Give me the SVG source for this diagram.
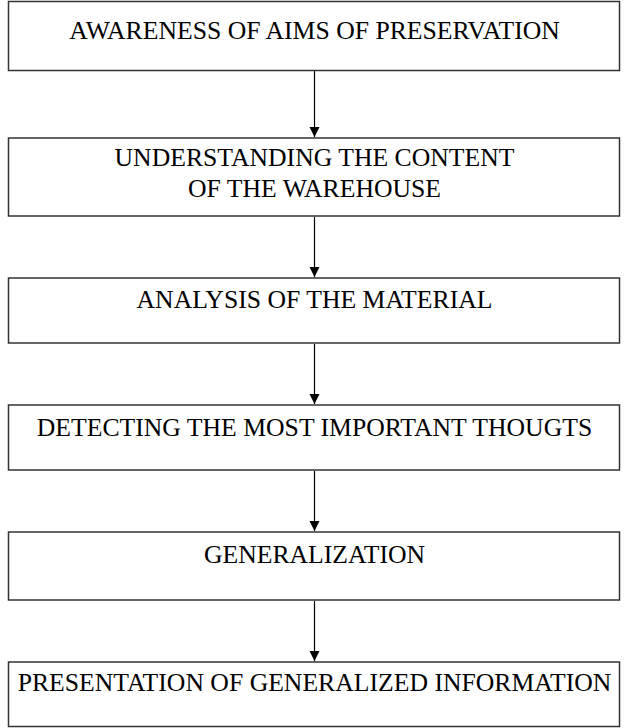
<svg xmlns="http://www.w3.org/2000/svg" width="629" height="728" viewBox="0 0 629 728">
<style>
.box{fill:#fff;stroke:#333;stroke-width:1.5}
.lbl{font-family:"Liberation Serif","Times New Roman",serif;font-size:25.7px;fill:#000;text-anchor:middle}
.conn{stroke:#000;stroke-width:1.2;fill:none;marker-end:url(#arr)}
</style>
<defs>
<marker id="arr" markerWidth="10" markerHeight="12" refX="10" refY="6" orient="auto" markerUnits="userSpaceOnUse" viewBox="0 0 10 12">
<path d="M0,1 L10,6 L0,11 Z" fill="#000"/>
</marker>
</defs>
<rect width="629" height="728" fill="#fff"/>
<g id="connectors">
<line class="conn" x1="314.5" y1="71" x2="314.5" y2="137"/>
<line class="conn" x1="314.5" y1="217" x2="314.5" y2="277"/>
<line class="conn" x1="314.5" y1="344" x2="314.5" y2="404"/>
<line class="conn" x1="314.5" y1="471" x2="314.5" y2="531"/>
<line class="conn" x1="314.5" y1="601" x2="314.5" y2="661"/>
</g>
<g id="n1"><rect class="box" x="8.5" y="1.5" width="611" height="69"/><text class="lbl" x="314.5" y="39">AWARENESS OF AIMS OF PRESERVATION</text></g>
<g id="n2"><rect class="box" x="8.5" y="138" width="611" height="78"/><text class="lbl" x="314.5" y="166">UNDERSTANDING THE CONTENT</text><text class="lbl" x="314.5" y="197">OF THE WAREHOUSE</text></g>
<g id="n3"><rect class="box" x="8.5" y="278" width="611" height="65"/><text class="lbl" x="314.5" y="308">ANALYSIS OF THE MATERIAL</text></g>
<g id="n4"><rect class="box" x="8.5" y="405" width="611" height="65"/><text class="lbl" x="314.5" y="436">DETECTING THE MOST IMPORTANT THOUGTS</text></g>
<g id="n5"><rect class="box" x="8.5" y="532" width="611" height="68"/><text class="lbl" x="314.5" y="563">GENERALIZATION</text></g>
<g id="n6"><rect class="box" x="8.5" y="662" width="611" height="64.5"/><text class="lbl" x="314.5" y="691">PRESENTATION OF GENERALIZED INFORMATION</text></g>
</svg>
